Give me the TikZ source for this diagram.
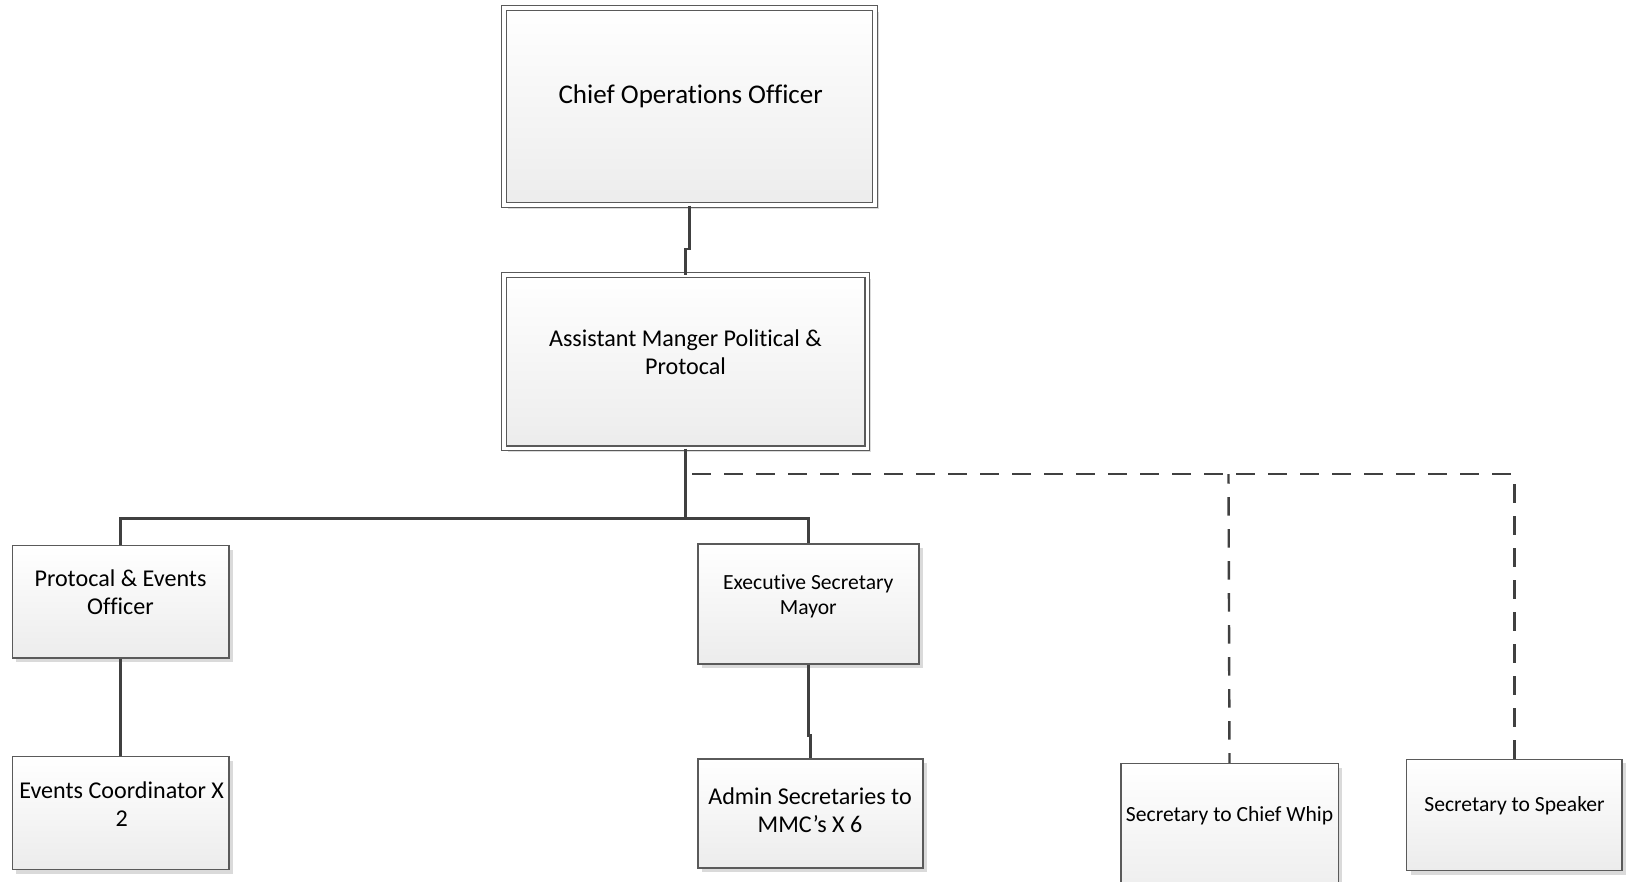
\documentclass[tikz,border=0pt]{standalone}
\usepackage{fontspec}
\setmainfont{Carlito}[Ligatures=NoCommon]
\usetikzlibrary{shadows}
\definecolor{linec}{HTML}{404040}
\definecolor{boxb}{HTML}{5A5A5A}
\definecolor{shadowc}{HTML}{DADADA}
\definecolor{fillbot}{HTML}{ECECEC}
\tikzset{
  orgbox/.style={draw=boxb, line width=1.3pt, top color=white, bottom color=fillbot,
     drop shadow={shadow xshift=4pt, shadow yshift=-4pt, fill=shadowc, opacity=1},
     rectangle, inner sep=0pt, anchor=north west},
  dblbox/.style={orgbox, double=white, double distance=3.4pt, line width=1.2pt},
  bigtxt/.style={font=\fontsize{27}{32}\selectfont, align=center, inner sep=0pt},
  midtxt/.style={font=\fontsize{24.1}{28.3}\selectfont, align=center, inner sep=0pt},
  smalltxt/.style={font=\fontsize{21.6}{25}\selectfont, align=center, inner sep=0pt},
  solidlink/.style={draw=linec, line width=2.4pt},
  dashlink/.style={draw=linec, line width=2.4pt, dash pattern=on 18.5pt off 13.5pt}
}
\begin{document}
\begin{tikzpicture}[x=1pt, y=-1pt]
\useasboundingbox[fill=white] (0,0) rectangle (1629,881);
% boxes
\node[dblbox, minimum width=370.9pt, minimum height=197pt] (coo) at (503.4,7.5) {};
\node[dblbox, minimum width=363.3pt, minimum height=173.1pt] (am) at (503.3,274.5) {};
\node[orgbox, minimum width=216.6pt, minimum height=112.3pt] (pe) at (11.7,545) {};
\node[orgbox, minimum width=216.6pt, minimum height=113pt] (ec) at (11.7,756) {};
\node[orgbox, minimum width=221pt, minimum height=120pt] (es) at (697.3,543.3) {};
\node[orgbox, minimum width=225pt, minimum height=109pt] (as) at (697.3,758.3) {};
\node[orgbox, minimum width=217.3pt, minimum height=140pt] (cw) at (1120.2,762.9) {};
\node[orgbox, minimum width=215.3pt, minimum height=111.3pt] (sp) at (1406,758.6) {};
% texts
\node[bigtxt] (coot) at (690.7,96.7) {Chief Operations Officer};
\node[midtxt] (amt) at (685.5,352) {Assistant Manger Political \&\\Protocal};
\node[midtxt] (pet) at (120.5,592) {Protocal \& Events\\Officer};
\node[smalltxt] (est) at (808.3,596.7) {Executive Secretary\\Mayor};
\node[midtxt] (ect) at (121.7,804) {Events Coordinator X\\2};
\node[midtxt] (ast) at (810,810) {Admin Secretaries to\\MMC’s X 6};
\node[smalltxt] (cwt) at (1229.6,815.9) {Secretary to Chief Whip};
\node[smalltxt] (spt) at (1514.5,805.8) {Secretary to Speaker};
% connectors
\coordinate (dj) at (am.south |- 0,474);
\coordinate (bus) at (am.south |- 0,518.6);
\draw[dashlink] (am.south) -- (dj) -| (sp.north);
\draw[dashlink, dash phase=9pt] ([xshift=-1pt]dj -| cw.north) -- (cw.north);
\draw[solidlink] (coo.south) -- ++(0,43) -| (am.north);
\draw[solidlink] (am.south) -- (bus);
\draw[solidlink] (pe.north) |- (bus) -| (es.north);
\draw[solidlink] (pe.south) -- (ec.north);
\draw[solidlink] (es.south) -- ++(0,71) -| (as.north);
\end{tikzpicture}
\end{document}
